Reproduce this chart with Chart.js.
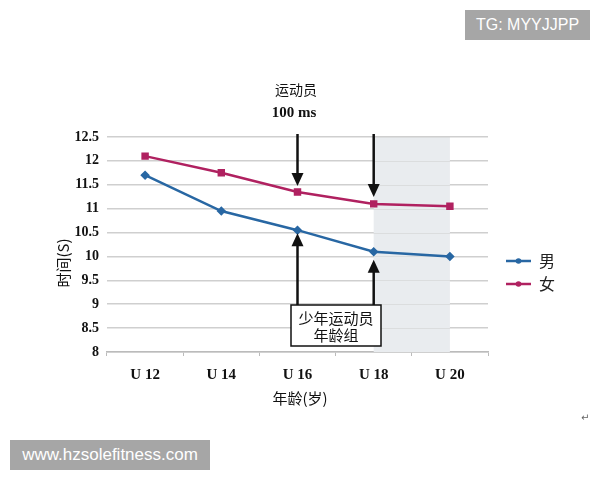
<!DOCTYPE html>
<html>
<head>
<meta charset="utf-8">
<script src="https://cdn.jsdelivr.net/npm/chart.js@4/dist/chart.umd.min.js"></script>
<style>
  html, body { margin: 0; padding: 0; background: #fff; }
  #wrap { position: relative; width: 600px; height: 480px; }
  .wm { position: absolute; background: #a6a6a6; color: #fff; font-family: "Liberation Sans", Arial, sans-serif; line-height: 30px; text-align: center; }
  .seta { position: absolute; left: 581px; top: 412px; font-size: 10px; color: #666; font-family: "DejaVu Sans", sans-serif; }
</style>
</head>
<body>
<div id="wrap">
  <canvas id="grafico" width="600" height="480"></canvas>
  <div class="wm" style="left:465px; top:10px; width:125px; height:30px; font-size:16px;">TG: MYYJJPP</div>
  <div class="wm" style="left:10px; top:440px; width:200px; height:30px; font-size:17px;">www.hzsolefitness.com</div>
  <div class="seta">↵</div>
</div>
<script>
// dados
const categorias = ['U 12', 'U 14', 'U 16', 'U 18', 'U 20'];
const tempoMasculino = [11.7, 10.95, 10.55, 10.1, 10.0];
const tempoFeminino = [12.1, 11.75, 11.35, 11.1, 11.05];
const nomesSeries = ['男', '女'];
const coresSeries = ['#2867a3', '#b02160'];

const fonteCJK = '"Noto Sans CJK SC", "Noto Sans", sans-serif';
const fonteSerif = '"Liberation Serif", "DejaVu Serif", serif';

// desenha a faixa cinza, as setas, a caixa e os textos
const anotacoes = {
    id: 'anotacoes',
    beforeDatasetsDraw(chart) {
        const { ctx, chartArea, scales } = chart;
        const x1 = scales.x.getPixelForValue(3);
        const x2 = scales.x.getPixelForValue(4);
        ctx.save();
        ctx.fillStyle = '#e9ecef';
        ctx.fillRect(x1, chartArea.top, x2 - x1, chartArea.bottom - chartArea.top);
        // redesenhar linhas de grade por cima da faixa
        ctx.strokeStyle = 'rgba(205,205,205,0.5)';
        ctx.lineWidth = 1;
        scales.y.ticks.forEach(t => {
            const y = Math.round(scales.y.getPixelForValue(t.value)) + 0.5;
            ctx.beginPath();
            ctx.moveTo(x1, y);
            ctx.lineTo(x2, y);
            ctx.stroke();
        });
        ctx.restore();
    },
    afterDatasetsDraw(chart) {
        const { ctx, scales } = chart;
        const xs = scales.x, ys = scales.y;

        function seta(x, yInicio, yFim) {
            const dir = yFim > yInicio ? 1 : -1;
            ctx.beginPath();
            ctx.moveTo(x, yInicio);
            ctx.lineTo(x, yFim - dir * 11);
            ctx.stroke();
            ctx.beginPath();
            ctx.moveTo(x, yFim);
            ctx.lineTo(x - 6, yFim - dir * 13);
            ctx.lineTo(x + 6, yFim - dir * 13);
            ctx.closePath();
            ctx.fill();
        }

        ctx.save();
        ctx.strokeStyle = '#111';
        ctx.fillStyle = '#111';
        ctx.lineWidth = 2.5;

        const x16 = xs.getPixelForValue(2);
        const x18 = xs.getPixelForValue(3);
        seta(x16, 134, ys.getPixelForValue(tempoFeminino[2]) - 6);
        seta(x18, 134, ys.getPixelForValue(tempoFeminino[3]) - 7);

        // caixa
        const bx = 291, by = 305, bw = 90, bh = 41;
        seta(x16, by, ys.getPixelForValue(tempoMasculino[2]) + 3);
        seta(x18, by, ys.getPixelForValue(tempoMasculino[3]) + 8);
        ctx.fillStyle = '#fff';
        ctx.fillRect(bx, by, bw, bh);
        ctx.lineWidth = 1.5;
        ctx.strokeRect(bx, by, bw, bh);
        ctx.fillStyle = '#111';
        ctx.font = '15px ' + fonteCJK;
        ctx.textAlign = 'center';
        ctx.textBaseline = 'middle';
        ctx.fillText('少年运动员', bx + bw / 2, by + 13);
        ctx.fillText('年龄组', bx + bw / 2, by + 30);

        // texto superior
        ctx.font = '14px ' + fonteCJK;
        ctx.fillText('运动员', 296, 90);
        ctx.font = 'bold 15px ' + fonteSerif;
        ctx.fillText('100 ms', 294, 113);

        // títulos dos eixos
        ctx.font = '15px ' + fonteCJK;
        ctx.fillText('年龄(岁)', 300, 398);
        ctx.save();
        ctx.translate(63, 263);
        ctx.rotate(-Math.PI / 2);
        ctx.fillText('时间(S)', 0, 0);
        ctx.restore();

        // legenda
        const legY = [261, 284];
        chart.data.datasets.forEach((ds, i) => {
            const y = legY[i];
            ctx.strokeStyle = ds.borderColor;
            ctx.fillStyle = ds.borderColor;
            ctx.lineWidth = 2.5;
            ctx.beginPath();
            ctx.moveTo(506, y);
            ctx.lineTo(531, y);
            ctx.stroke();
            ctx.beginPath();
            ctx.arc(518.5, y, 2.8, 0, Math.PI * 2);
            ctx.fill();
            ctx.fillStyle = '#222';
            ctx.font = '16px ' + fonteCJK;
            ctx.textAlign = 'left';
            ctx.fillText(ds.label, 539, y);
        });
        ctx.restore();
    }
};

new Chart(document.getElementById('grafico').getContext('2d'), {
    type: 'line',
    data: {
        labels: categorias,
        datasets: [
            {
                label: nomesSeries[0],
                data: tempoMasculino,
                borderColor: coresSeries[0],
                backgroundColor: coresSeries[0],
                borderWidth: 2.5,
                pointStyle: 'rectRot',
                pointRadius: 3,
                tension: 0
            },
            {
                label: nomesSeries[1],
                data: tempoFeminino,
                borderColor: coresSeries[1],
                backgroundColor: coresSeries[1],
                borderWidth: 2.5,
                pointStyle: 'rect',
                pointRadius: 3.5,
                tension: 0
            }
        ]
    },
    options: {
        responsive: false,
        animation: false,
        layout: { padding: { top: 137, right: 112, bottom: 0, left: 0 } },
        plugins: {
            legend: { display: false },
            tooltip: { enabled: false }
        },
        scales: {
            x: {
                offset: true,
                afterFit: scale => { scale.height = 128; },
                grid: { offset: true, drawOnChartArea: false, tickLength: 4, color: '#bbb' },
                border: { color: '#bbb', width: 1.5 },
                ticks: {
                    padding: 10,
                    color: '#111',
                    font: { family: fonteSerif, size: 15, weight: 'bold' }
                }
            },
            y: {
                min: 8,
                max: 12.5,
                afterFit: scale => { scale.width = 107; },
                grid: { color: '#cfcfcf', lineWidth: 1.5, drawTicks: false },
                border: { display: false },
                ticks: {
                    stepSize: 0.5,
                    padding: 8,
                    color: '#111',
                    font: { family: fonteSerif, size: 14, weight: 'bold' },
                    callback: v => String(v)
                }
            }
        }
    },
    plugins: [anotacoes]
});
</script>
</body>
</html>
